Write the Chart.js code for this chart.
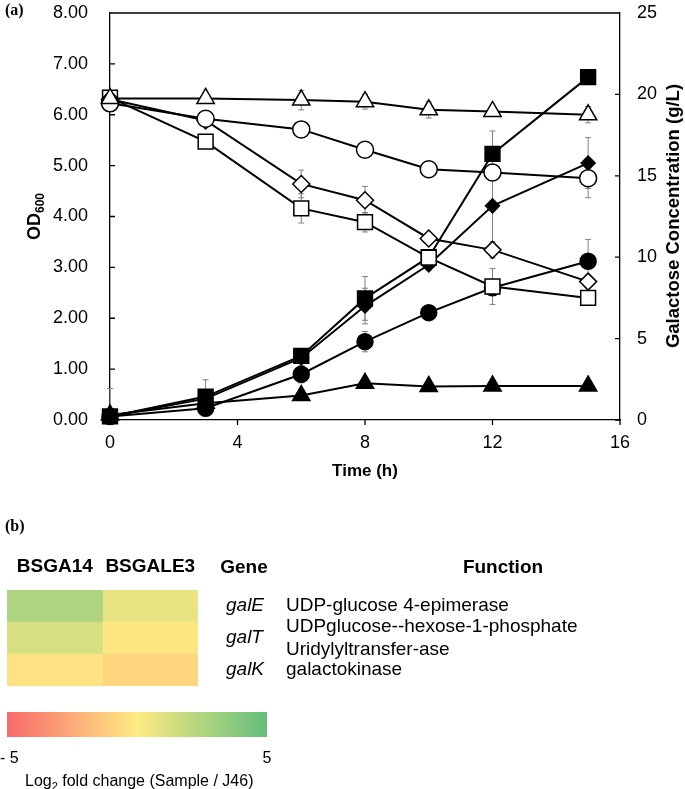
<!DOCTYPE html>
<html>
<head>
<meta charset="utf-8">
<script src="https://cdn.jsdelivr.net/npm/chart.js@4.4.0/dist/chart.umd.min.js"></script>
<style>
  html, body { margin: 0; padding: 0; background: #fff; }
  canvas { display: block; }
</style>
</head>
<body>
<canvas id="growth" width="685" height="500"></canvas>
<canvas id="heat" width="685" height="289"></canvas>
<script>
const FONT = "'Liberation Sans', Arial, sans-serif";

// sampling times (h)
const time = [0, 3, 6, 8, 10, 12, 15];

// OD600, filled markers (left axis)
const odSquare = [0.07, 0.46, 1.26, 2.39, 3.20, 5.23, 6.74];
const odDiamond = [0.07, 0.42, 1.22, 2.24, 3.05, 4.21, 5.05];
const odCircle = [0.07, 0.23, 0.90, 1.54, 2.11, 2.60, 3.12];
const odTriangle = [0.10, 0.33, 0.48, 0.72, 0.66, 0.67, 0.67];
const odSquareErr = [0.55, 0.33, 0.1, 0.43, 0, 0.45, 0];
const odDiamondErr = [0, 0, 0, 0.35, 0.1, 0.75, 0.5];
const odCircleErr = [0, 0, 0.17, 0.2, 0.1, 0, 0.43];
const odTriangleErr = [0, 0, 0, 0, 0, 0, 0];

// galactose g/L, open markers (right axis)
const galTriangle = [19.75, 19.75, 19.65, 19.55, 19.05, 18.95, 18.75];
const galCircle = [19.45, 18.5, 17.85, 16.6, 15.4, 15.2, 14.85];
const galDiamond = [19.7, 18.4, 14.5, 13.5, 11.15, 10.45, 8.5];
const galSquare = [19.8, 17.1, 13.0, 12.15, 9.97, 8.2, 7.5];
const galTriangleErr = [0, 0, 0.6, 0.45, 0.5, 0.2, 0.5];
const galCircleErr = [0, 0, 0.35, 0, 0.35, 0, 1.2];
const galDiamondErr = [0, 0, 0.85, 0.85, 0, 0.5, 0];
const galSquareErr = [0, 0, 0.9, 0.6, 0.5, 1.1, 0.3];

// panel b
const strains = ['BSGA14', 'BSGALE3'];
const genes = ['galE', 'galT', 'galK'];
const geneFunction = [
  ['UDP-glucose 4-epimerase'],
  ['UDPglucose--hexose-1-phosphate', 'Uridylyltransfer-ase'],
  ['galactokinase'],
];
const log2BSGA14 = [2.6, 1.3, -0.3];
const log2BSGALE3 = [0.75, -0.2, -0.8];
const scaleRange = [-5, 5];

function series(data, err, style, radius, filled, axis) {
  return {
    data: time.map((t, i) => ({ x: t, y: data[i] })),
    errors: err,
    yAxisID: axis,
    borderColor: '#000',
    borderWidth: 2,
    pointStyle: style,
    pointRadius: radius,
    pointHoverRadius: radius,
    pointBackgroundColor: filled ? '#000' : '#fff',
    pointBorderColor: '#000',
    pointBorderWidth: 1.5,
    fill: false,
    tension: 0,
    clip: false,
  };
}

const growthDecor = {
  id: 'growthDecor',
  beforeDatasetsDraw(chart) {
    const ctx = chart.ctx, xs = chart.scales.x, a = chart.chartArea;
    ctx.save();
    ctx.beginPath();
    ctx.rect(a.left - 10, a.top - 10, a.right - a.left + 20, a.bottom - a.top + 10);
    ctx.clip();
    ctx.strokeStyle = '#808080';
    ctx.lineWidth = 1;
    chart.data.datasets.forEach(ds => {
      const ys = chart.scales[ds.yAxisID];
      ds.errors.forEach((e, i) => {
        if (!e) return;
        const x = xs.getPixelForValue(time[i]);
        const y0 = ys.getPixelForValue(ds.data[i].y - e);
        const y1 = ys.getPixelForValue(ds.data[i].y + e);
        ctx.beginPath();
        ctx.moveTo(x, y0); ctx.lineTo(x, y1);
        ctx.moveTo(x - 3, y0); ctx.lineTo(x + 3, y0);
        ctx.moveTo(x - 3, y1); ctx.lineTo(x + 3, y1);
        ctx.stroke();
      });
    });
    ctx.restore();
  },
  afterDraw(chart) {
    const ctx = chart.ctx, a = chart.chartArea;
    const { x, y, y2 } = chart.scales;
    ctx.save();
    ctx.strokeStyle = '#000';
    ctx.lineWidth = 1.3;
    ctx.beginPath();
    ctx.moveTo(a.left, a.top); ctx.lineTo(a.right, a.top);
    y.ticks.forEach(t => {
      const p = y.getPixelForValue(t.value);
      ctx.moveTo(a.left, p); ctx.lineTo(a.left + 5, p);
    });
    y2.ticks.forEach(t => {
      const p = y2.getPixelForValue(t.value);
      ctx.moveTo(a.right, p); ctx.lineTo(a.right - 5, p);
    });
    x.ticks.forEach(t => {
      const p = x.getPixelForValue(t.value);
      ctx.moveTo(p, a.bottom); ctx.lineTo(p, a.bottom + 5);
    });
    ctx.stroke();

    ctx.fillStyle = '#000';
    ctx.font = 'bold 17px ' + FONT;
    ctx.textAlign = 'center';
    ctx.textBaseline = 'middle';
    ctx.fillText('Time (h)', (a.left + a.right) / 2, 471);

    ctx.font = 'bold 16px "Liberation Serif", "Times New Roman", serif';
    ctx.textAlign = 'left';
    ctx.fillText('(a)', 5, 11);

    // left title with subscript
    ctx.save();
    ctx.translate(40, 240);
    ctx.rotate(-Math.PI / 2);
    ctx.textBaseline = 'alphabetic';
    ctx.font = 'bold 18px ' + FONT;
    ctx.fillText('OD', 0, 0);
    const w = ctx.measureText('OD').width;
    ctx.font = 'bold 12px ' + FONT;
    ctx.fillText('600', w, 4);
    ctx.restore();

    // right title
    ctx.save();
    ctx.translate(674, 216);
    ctx.rotate(-Math.PI / 2);
    ctx.textAlign = 'center';
    ctx.textBaseline = 'middle';
    ctx.font = 'bold 18.5px ' + FONT;
    ctx.fillText('Galactose Concentration (g/L)', 0, 0);
    ctx.restore();
    ctx.restore();
  }
};

const tickFont = { family: FONT, size: 18 };
const noGrid = { display: false, drawTicks: false };
const axisBorder = { display: true, color: '#000', width: 1.3 };
function fixWidth(w) {
  return s => { s.width = w; s.paddingTop = 0; s.paddingBottom = 0; };
}

new Chart(document.getElementById('growth'), {
  type: 'line',
  data: {
    datasets: [
      series(galTriangle, galTriangleErr, 'triangle', 10, false, 'y2'),
      series(galCircle, galCircleErr, 'circle', 8.5, false, 'y2'),
      series(galDiamond, galDiamondErr, 'rectRot', 8.5, false, 'y2'),
      series(galSquare, galSquareErr, 'rect', 10.5, false, 'y2'),
      series(odSquare, odSquareErr, 'rect', 10.5, true, 'y'),
      series(odDiamond, odDiamondErr, 'rectRot', 7, true, 'y'),
      series(odCircle, odCircleErr, 'circle', 8, true, 'y'),
      series(odTriangle, odTriangleErr, 'triangle', 10, true, 'y'),
    ],
  },
  options: {
    responsive: false,
    animation: false,
    events: [],
    layout: { autoPadding: false, padding: { top: 13, left: 0, right: 0, bottom: 0 } },
    plugins: { legend: { display: false }, tooltip: { enabled: false } },
    scales: {
      x: {
        type: 'linear', min: 0, max: 16,
        grid: noGrid, border: axisBorder,
        ticks: { stepSize: 4, padding: 12, color: '#000', font: tickFont, maxRotation: 0 },
        afterFit: s => { s.height = 80; },
      },
      y: {
        position: 'left', min: 0, max: 8,
        grid: noGrid, border: axisBorder,
        ticks: { stepSize: 1, padding: 22, color: '#000', font: tickFont, callback: v => v.toFixed(2) },
        afterFit: fixWidth(110),
      },
      y2: {
        position: 'right', min: 0, max: 25,
        grid: noGrid, border: axisBorder,
        ticks: { stepSize: 5, padding: 17, color: '#000', font: tickFont },
        afterFit: fixWidth(65),
      },
    },
  },
  plugins: [growthDecor],
});

// Excel-like 3-colour scale
const lowColor = [248, 105, 107], midColor = [255, 235, 132], highColor = [99, 190, 123];
function heatColor(v) {
  const t = Math.max(-1, Math.min(1, v / scaleRange[1]));
  const end = t < 0 ? lowColor : highColor;
  const f = Math.abs(t);
  const c = midColor.map((m, i) => Math.round(m + (end[i] - m) * f));
  return `rgb(${c[0]},${c[1]},${c[2]})`;
}

const heatDecor = {
  id: 'heatDecor',
  afterDraw(chart) {
    const ctx = chart.ctx, a = chart.chartArea, ys = chart.scales.y;
    ctx.save();
    ctx.fillStyle = '#000';
    ctx.font = 'bold 16px "Liberation Serif", "Times New Roman", serif';
    ctx.textAlign = 'left';
    ctx.textBaseline = 'middle';
    ctx.fillText('(b)', 5, 27);

    ctx.font = 'bold 19px ' + FONT;
    ctx.textAlign = 'center';
    ctx.textBaseline = 'alphabetic';
    ctx.fillText('Gene', 244, 73);
    ctx.fillText('Function', 503, 73);

    ctx.font = '19px ' + FONT;
    ctx.textAlign = 'left';
    ctx.textBaseline = 'middle';
    geneFunction.forEach((lines, i) => {
      const c = ys.getPixelForValue(i);
      const step = 23;
      lines.forEach((txt, k) => {
        ctx.fillText(txt, 286, c + (k - (lines.length - 1) / 2) * step);
      });
    });

    // colour bar
    const bx = a.left, bw = 260, by = 212, bh = 25;
    const g = ctx.createLinearGradient(bx, 0, bx + bw, 0);
    g.addColorStop(0, heatColor(scaleRange[0]));
    g.addColorStop(0.5, heatColor(0));
    g.addColorStop(1, heatColor(scaleRange[1]));
    ctx.fillStyle = g;
    ctx.fillRect(bx, by, bw, bh);

    ctx.fillStyle = '#000';
    ctx.font = '16px ' + FONT;
    ctx.textBaseline = 'alphabetic';
    ctx.textAlign = 'left';
    ctx.fillText('- ' + Math.abs(scaleRange[0]), 0, 263);
    ctx.textAlign = 'center';
    ctx.fillText(String(scaleRange[1]), bx + bw, 263);
    ctx.textAlign = 'left';
    let x = 25;
    ctx.fillText('Log', x, 286);
    x += ctx.measureText('Log').width;
    ctx.font = '11px ' + FONT;
    ctx.fillText('2', x, 290);
    x += ctx.measureText('2').width;
    ctx.font = '16px ' + FONT;
    ctx.fillText(' fold change (Sample / J46)', x, 286);
    ctx.restore();
  }
};

new Chart(document.getElementById('heat'), {
  type: 'bar',
  data: {
    labels: genes,
    datasets: [log2BSGA14, log2BSGALE3].map((vals, k) => ({
      label: strains[k],
      data: genes.map(() => 1),
      backgroundColor: vals.map(heatColor),
      borderWidth: 0,
      barPercentage: 1,
      categoryPercentage: 1,
    })),
  },
  options: {
    indexAxis: 'y',
    responsive: false,
    animation: false,
    events: [],
    layout: { autoPadding: false, padding: { left: 7, right: 0, top: 0, bottom: 103 } },
    plugins: { legend: { display: false }, tooltip: { enabled: false } },
    scales: {
      x: {
        type: 'linear', position: 'top', stacked: true, min: 0, max: 2,
        grid: noGrid, border: { display: false },
        afterBuildTicks: s => { s.ticks = strains.map((n, i) => ({ value: i + 0.5 })); },
        afterFit: s => { s.height = 90; },
        ticks: {
          autoSkip: false, maxRotation: 0, padding: 12, color: '#000',
          font: { family: FONT, size: 19, weight: 'bold' },
          callback: (v, i) => strains[i],
        },
      },
      y: {
        position: 'right', stacked: true,
        grid: noGrid, border: { display: false },
        afterFit: s => { s.width = 487; },
        ticks: { padding: 28, color: '#000', font: { family: FONT, size: 19, style: 'italic' } },
      },
    },
  },
  plugins: [heatDecor],
});
</script>
</body>
</html>
